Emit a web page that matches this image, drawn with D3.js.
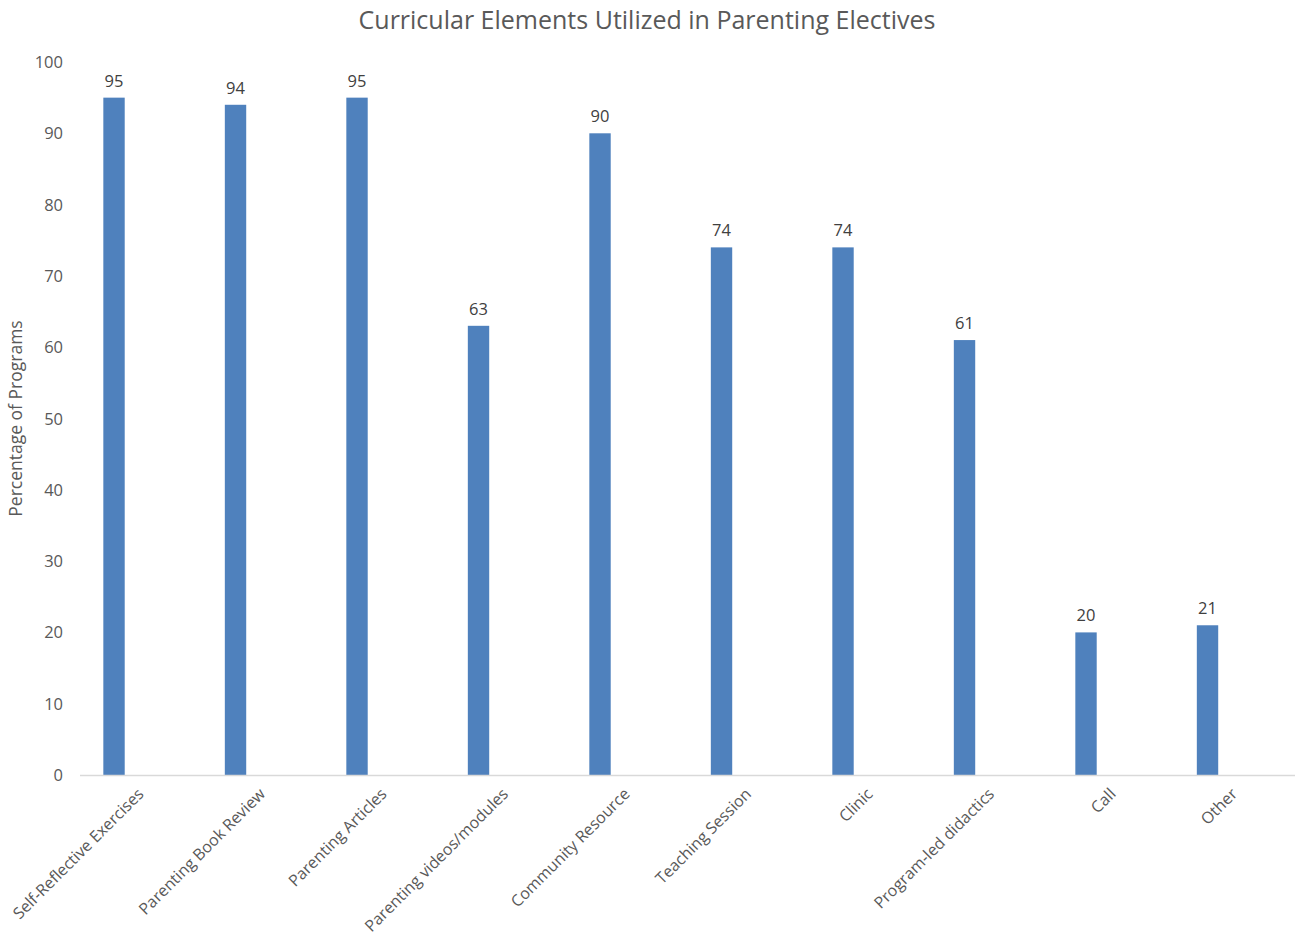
<!DOCTYPE html>
<html>
<head>
<meta charset="utf-8">
<script src="https://cdn.jsdelivr.net/npm/d3@7"></script>
<style>
  body { margin: 0; background: #fff; }
  svg { display: block; font-family: "Open Sans", sans-serif; }
</style>
</head>
<body>
<svg id="chart" width="1296" height="940"></svg>
<script>
const categories = ["Self-Reflective Exercises", "Parenting Book Review", "Parenting Articles", "Parenting videos/modules", "Community Resource", "Teaching Session", "Clinic", "Program-led didactics", "Call", "Other"];
const values = [95, 94, 95, 63, 90, 74, 74, 61, 20, 21];
const yTicks = [0, 10, 20, 30, 40, 50, 60, 70, 80, 90, 100];
const title = "Curricular Elements Utilized in Parenting Electives";
const yTitle = "Percentage of Programs";

const svg = d3.select("#chart");
const plotLeft = 80, plotRight = 1295, plotTop = 62, plotBottom = 775;

const x = d3.scaleBand().domain(categories).range([plotLeft, plotRight]).padding(0);
const y = d3.scaleLinear().domain([0, 100]).range([plotBottom, plotTop]);
const bw = x.bandwidth();
const barOff = bw * 0.192, barW = bw * 0.176;

svg.append("text")
  .attr("x", 647).attr("y", 29)
  .attr("text-anchor", "middle")
  .attr("font-size", 25)
  .attr("fill", "#595959")
  .text(title);

// y axis labels
svg.append("g").selectAll("text").data(yTicks).join("text")
  .attr("x", 63).attr("y", d => y(d) + 6)
  .attr("text-anchor", "end")
  .attr("font-size", 16.5)
  .attr("fill", "#595959")
  .text(d => d);

svg.append("text")
  .attr("transform", `translate(22,${(plotTop + plotBottom) / 2}) rotate(-90)`)
  .attr("text-anchor", "middle")
  .attr("font-size", 17.5)
  .attr("fill", "#595959")
  .text(yTitle);

// bars
svg.append("g").selectAll("rect").data(categories).join("rect")
  .attr("x", (d) => x(d) + barOff)
  .attr("width", barW)
  .attr("y", (d, i) => y(values[i]))
  .attr("height", (d, i) => y(0) - y(values[i]))
  .attr("fill", "#4F81BD");

// x axis line
svg.append("line")
  .attr("x1", plotLeft).attr("x2", plotRight)
  .attr("y1", plotBottom + 0.5).attr("y2", plotBottom + 0.5)
  .attr("stroke", "#D9D9D9").attr("stroke-width", 1.5);

// data labels
svg.append("g").selectAll("text").data(categories).join("text")
  .attr("x", d => x(d) + barOff + barW / 2)
  .attr("y", (d, i) => y(values[i]) - 11)
  .attr("text-anchor", "middle")
  .attr("font-size", 16.5)
  .attr("fill", "#404040")
  .text((d, i) => values[i]);

// category labels
svg.append("g").selectAll("text").data(categories).join("text")
  .attr("transform", d => `translate(${x(d) + bw / 2 + 4},${plotBottom + 20}) rotate(-45)`)
  .attr("text-anchor", "end")
  .attr("font-size", 16)
  .attr("fill", "#595959")
  .text(d => d);
</script>
</body>
</html>
